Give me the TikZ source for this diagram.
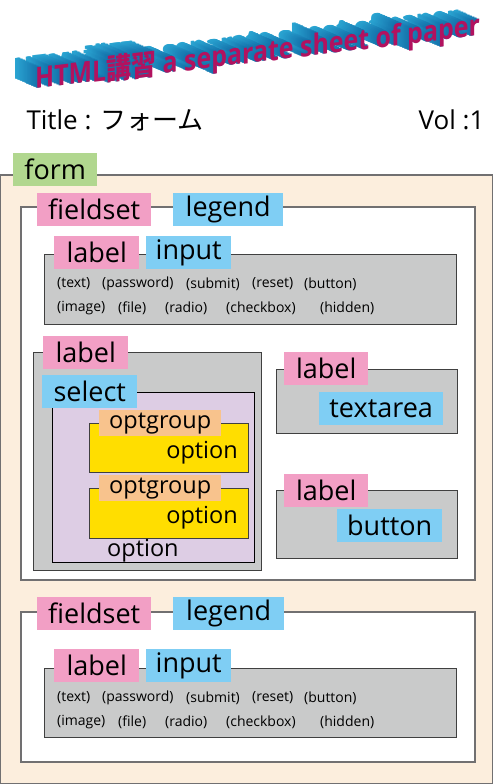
\documentclass[tikz,border=0pt]{standalone}
\usepackage{fontspec}
\setmainfont{Open Sans}
\newfontfamily\jpfont{Noto Sans CJK JP}
\usetikzlibrary{positioning}
\definecolor{formcream}{HTML}{FCEEDD}
\definecolor{tagpink}{HTML}{F29FC5}
\definecolor{tagblue}{HTML}{7FCEF4}
\definecolor{taggreen}{HTML}{B1D78F}
\definecolor{taggray}{HTML}{C9CACA}
\definecolor{selectlilac}{HTML}{DDCDE4}
\definecolor{groupyellow}{HTML}{FFDE00}
\definecolor{grouporange}{HTML}{F8C38D}
\definecolor{edgegray}{HTML}{717071}
\definecolor{headcyan}{HTML}{2BA6D3}
\definecolor{headdeep}{HTML}{0B5D9B}
\definecolor{headmagenta}{HTML}{B2125F}
\tikzset{
  tag/.style={inner sep=0pt, minimum height=33pt, anchor=north west,
    font=\fontsize{27}{27}\selectfont},
  pinktag/.style={tag, fill=tagpink},
  bluetag/.style={tag, fill=tagblue},
  orangetag/.style={tag, fill=grouporange, minimum height=26pt,
    font=\fontsize{23.5}{24}\selectfont},
  opttext/.style={inner sep=0pt, font=\fontsize{23.5}{24}\selectfont},
  typetext/.style={inner sep=0pt, anchor=west, font=\fontsize{14}{14}\selectfont},
  headtext/.style={inner sep=0pt, anchor=base west, transform shape, xscale=0.86,
    font=\fontsize{29}{29}\bfseries\selectfont},
  formline/.style={draw=edgegray, line width=1.2pt},
  boxline/.style={draw=black!75, line width=1pt}
}
\begin{document}
\begin{tikzpicture}[x=1pt,y=-1pt]
\useasboundingbox (0,0) rectangle (493,784);

% header with extruded letters
\begin{scope}[shift={(35,89)}, yslant=0.12]
  \foreach \i [evaluate=\i as \m using {int(30+5*\i)}] in {14,13.5,...,0.5}
    \node[headtext, text=headcyan!\m!headdeep] (shade) at (-1.6*\i,-0.9*\i)
      {HTML{\jpfont 講習} a separate sheet of paper};
  \node[headtext, text=headmagenta] (head)
    {HTML{\jpfont 講習} a separate sheet of paper};
\end{scope}

\node[anchor=base west, font=\fontsize{26}{26}\selectfont] (title) at (23,129)
  {Title : {\jpfont フォーム}};
\node[anchor=base east, font=\fontsize{26}{26}\selectfont] (vol) at (488,129)
  {Vol :1};

% form
\draw[formline, fill=formcream] (0.6,175) rectangle (492.4,783.4);
\node[tag, fill=taggreen, minimum width=84pt] (form) at (13,153) {form};

% first fieldset
\draw[formline, fill=white] (21,207) rectangle (475,580);
\node[pinktag, minimum width=114pt] (fs1) at (37,193) {fieldset};
\node[bluetag, minimum width=110pt] (lg1) at (173,193) {legend};

\draw[boxline, fill=taggray] (44,254) rectangle (456,324);
\node[pinktag, minimum width=85pt] (lb1) at (54,236) {label};
\node[bluetag, minimum width=85pt] (in1) at (146,236) {input};
\foreach \t/\x in {(text)/57, (password)/102, (submit)/186, (reset)/252, (button)/304}
  \node[typetext] (ta\x) at (\x,284) {\t};
\foreach \t/\x in {(image)/57, (file)/118, (radio)/165, (checkbox)/226, (hidden)/320}
  \node[typetext] (tb\x) at (\x,308) {\t};

% label with select
\draw[boxline, fill=taggray] (33,352) rectangle (261,570);
\node[pinktag, minimum width=85pt] (lb2) at (43,336) {label};
\draw[boxline, draw=black, fill=selectlilac] (52,392) rectangle (254,562);
\node[bluetag, minimum width=95pt] (sel) at (42,375) {select};
\draw[boxline, fill=groupyellow] (89,423) rectangle (248,472);
\node[orangetag, minimum width=122pt] (og1) at (99,410) {optgroup};
\node[opttext, anchor=base east] (op1) at (238,458) {option};
\draw[boxline, fill=groupyellow] (89,488) rectangle (248,538);
\node[orangetag, minimum width=122pt] (og2) at (99,475) {optgroup};
\node[opttext, anchor=base east] (op2) at (238,523) {option};
\node[opttext, anchor=base west] (op3) at (107,556) {option};

% label with textarea
\draw[boxline, fill=taggray] (276,369) rectangle (457,433);
\node[pinktag, minimum width=84pt] (lb3) at (284,352) {label};
\node[bluetag, minimum width=124pt] (txa) at (319,392) {textarea};

% label with button
\draw[boxline, fill=taggray] (276,490) rectangle (457,558);
\node[pinktag, minimum width=84pt] (lb4) at (284,474) {label};
\node[bluetag, minimum width=105pt] (btn) at (337,509) {button};

% second fieldset
\draw[formline, fill=white] (21,612) rectangle (475,762);
\node[pinktag, minimum width=114pt] (fs2) at (37,597) {fieldset};
\node[bluetag, minimum width=111pt] (lg2) at (173,597) {legend};

\draw[boxline, fill=taggray] (44,668) rectangle (456,737);
\node[pinktag, minimum width=85pt] (lb5) at (54,649) {label};
\node[bluetag, minimum width=85pt] (in2) at (146,649) {input};
\foreach \t/\x in {(text)/57, (password)/102, (submit)/186, (reset)/252, (button)/304}
  \node[typetext] (tc\x) at (\x,698) {\t};
\foreach \t/\x in {(image)/57, (file)/118, (radio)/165, (checkbox)/226, (hidden)/320}
  \node[typetext] (td\x) at (\x,722) {\t};
\end{tikzpicture}
\end{document}
